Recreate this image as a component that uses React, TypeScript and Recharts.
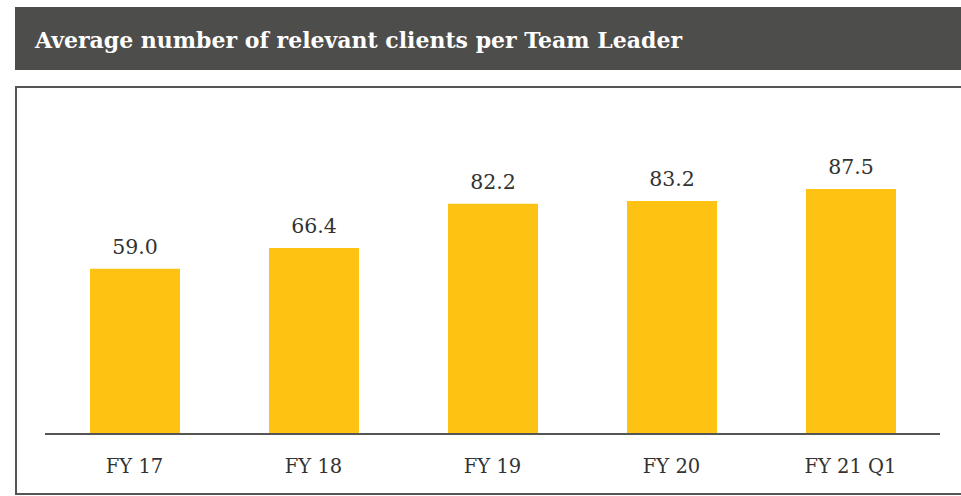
import React from 'react';
import { Bar, BarChart, LabelList, XAxis, YAxis } from 'recharts';

const categories = ['FY 17', 'FY 18', 'FY 19', 'FY 20', 'FY 21 Q1'];
const clientValues = [59.0, 66.4, 82.2, 83.2, 87.5];

const chartData = categories.map((period, i) => ({ period, value: clientValues[i] }));

const FONT = '"DejaVu Serif", serif';
const BAR_COLOR = '#FEC213';

export default function App() {
  return (
    <div style={{ position: 'absolute', left: 0, top: 0, width: 961, height: 496, overflow: 'hidden', background: '#fff', fontFamily: FONT }}>
      <div
        style={{
          position: 'absolute',
          left: 15,
          top: 7,
          width: 960,
          height: 63,
          background: '#4d4d4b',
          color: '#fff',
          fontWeight: 'bold',
          fontSize: 22,
          lineHeight: '66px',
          paddingLeft: 20,
          boxSizing: 'border-box',
        }}
      >
        Average number of relevant clients per Team Leader
      </div>
      <div
        style={{
          position: 'absolute',
          left: 15,
          top: 86,
          width: 960,
          height: 409,
          border: '2px solid #555',
          boxSizing: 'border-box',
        }}
      />
      <div style={{ position: 'absolute', left: 0, top: 0 }}>
        <BarChart width={961} height={496} data={chartData} margin={{ top: 154, right: 21, left: 45, bottom: 22 }}>
          <XAxis
            dataKey="period"
            height={40}
            tickLine={false}
            tickSize={0}
            tickMargin={25}
            axisLine={{ stroke: '#555', strokeWidth: 2 }}
            tick={{ fontSize: 19.5, fill: '#333', fontFamily: FONT }}
          />
          <YAxis hide domain={[0, 100]} />
          <Bar dataKey="value" fill={BAR_COLOR} barSize={90} isAnimationActive={false}>
            <LabelList
              dataKey="value"
              position="top"
              offset={15}
              formatter={(v: number) => v.toFixed(1)}
              style={{ fontSize: 20.5, fill: '#333', fontFamily: FONT }}
            />
          </Bar>
        </BarChart>
      </div>
    </div>
  );
}
